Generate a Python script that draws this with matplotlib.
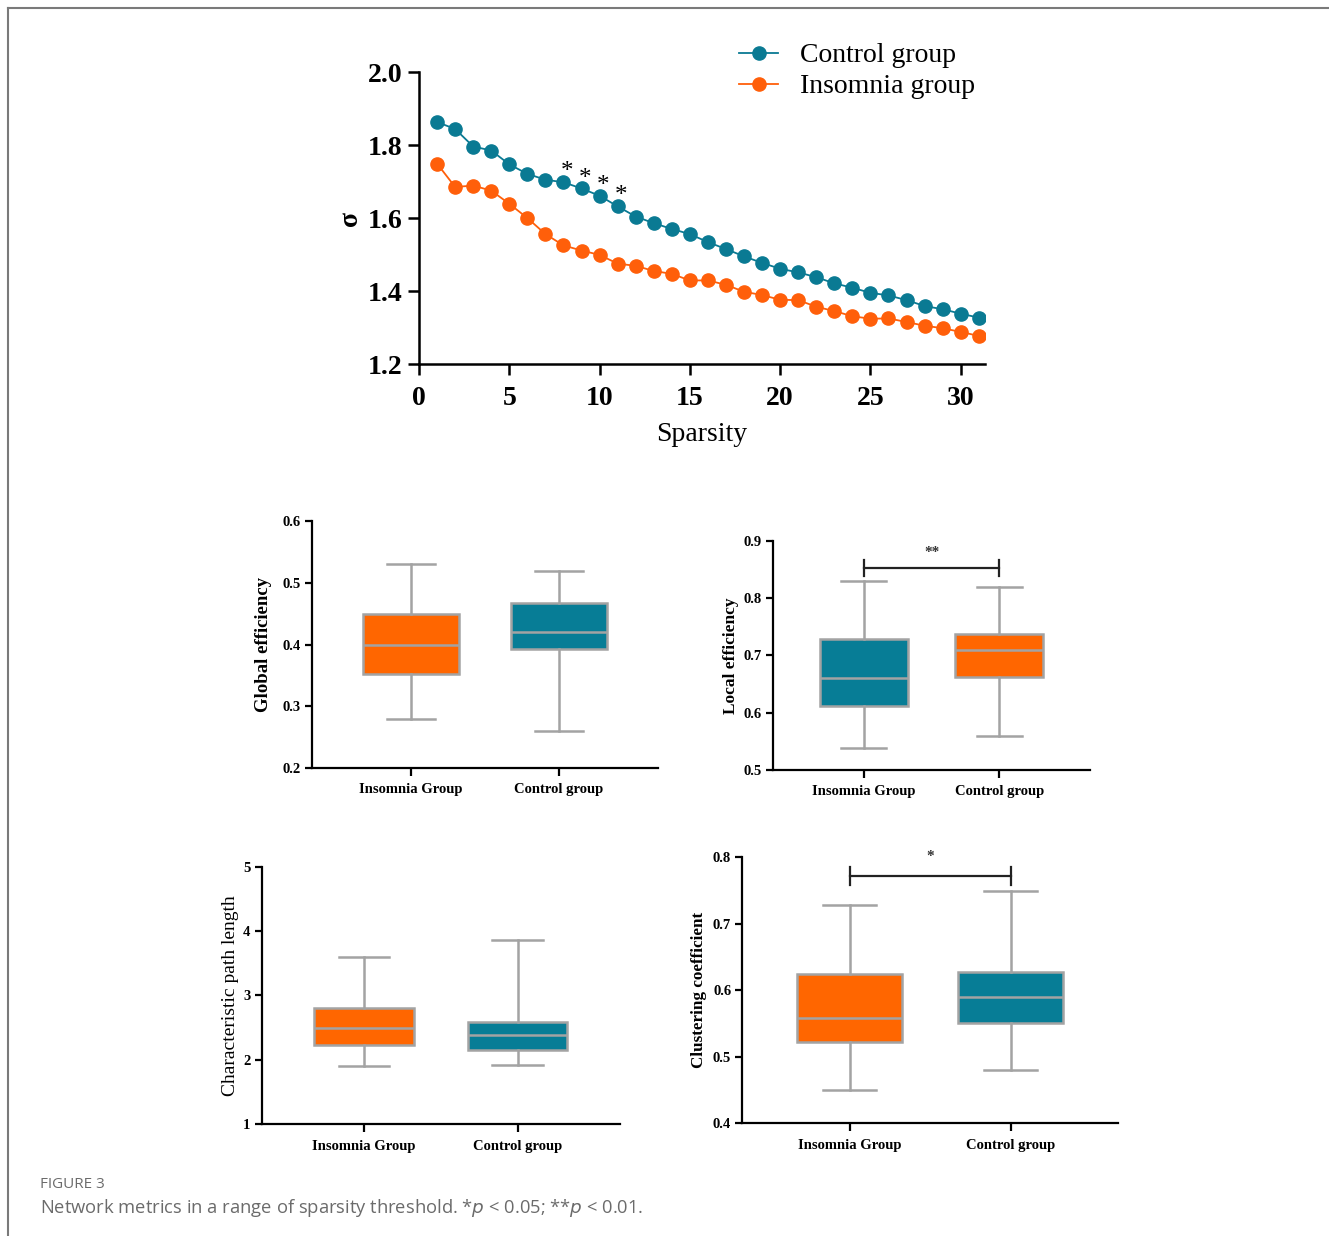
import matplotlib
matplotlib.use("Agg")
import matplotlib.pyplot as plt
from matplotlib.lines import Line2D

# ---------------- data ----------------
sparsity = list(range(1, 32))
control_sigma = [1.863, 1.844, 1.796, 1.785, 1.747, 1.721, 1.705, 1.698, 1.681, 1.661,
                 1.632, 1.604, 1.586, 1.570, 1.556, 1.534, 1.515, 1.495, 1.477, 1.461,
                 1.451, 1.438, 1.421, 1.409, 1.395, 1.388, 1.375, 1.359, 1.350, 1.338, 1.327]
insomnia_sigma = [1.749, 1.685, 1.689, 1.675, 1.639, 1.600, 1.556, 1.525, 1.511, 1.499,
                  1.475, 1.469, 1.455, 1.447, 1.429, 1.429, 1.417, 1.398, 1.389, 1.376,
                  1.375, 1.357, 1.345, 1.331, 1.324, 1.325, 1.315, 1.305, 1.298, 1.288, 1.277]
sig_sparsity = [8, 9, 10, 11]

groups = ["Insomnia Group", "Control group"]
# each box: [whisker low, Q1, median, Q3, whisker high]
global_eff = {"Insomnia Group": [0.279, 0.353, 0.400, 0.449, 0.530],
              "Control group": [0.260, 0.392, 0.420, 0.468, 0.519]}
local_eff = {"Insomnia Group": [0.539, 0.612, 0.660, 0.728, 0.830],
             "Control group": [0.559, 0.662, 0.709, 0.738, 0.820]}
path_len = {"Insomnia Group": [1.906, 2.226, 2.501, 2.806, 3.598],
            "Control group": [1.921, 2.149, 2.392, 2.583, 3.862]}
clust = {"Insomnia Group": [0.450, 0.522, 0.559, 0.625, 0.729],
         "Control group": [0.480, 0.551, 0.590, 0.628, 0.749]}

TEAL = "#077d96"
ORANGE = "#ff6600"
LTEAL = "#0a7a93"
LORANGE = "#ff5f0a"
GRAY = "#a3a3a3"

SERIF = ["Liberation Serif", "DejaVu Serif"]

fig = plt.figure(figsize=(13.29, 12.36), dpi=100)

# border lines
fig.add_artist(Line2D([8 / 1329, 1.0], [1 - 8 / 1236, 1 - 8 / 1236], color="#7a7a7a", lw=1.5))
fig.add_artist(Line2D([8 / 1329, 8 / 1329], [0.0, 1 - 8 / 1236], color="#7a7a7a", lw=1.5))

# ---------------- top line chart ----------------
ax = fig.add_axes([0.3153, 0.7055, 0.7412 - 0.3153, 0.9417 - 0.7055])
ax.plot(sparsity, control_sigma, "-o", color=LTEAL, lw=1.3, ms=9.5, label="Control group", zorder=3)
ax.plot(sparsity, insomnia_sigma, "-o", color=LORANGE, lw=1.3, ms=9.5, label="Insomnia group", zorder=3)
for s in sig_sparsity:
    ax.text(s + 0.2, control_sigma[s - 1] + 0.027, "*", ha="center", va="center",
            fontsize=18, family=SERIF, color="black")
ax.set_xlim(0, 31.35)
ax.set_ylim(1.2, 2.0)
ax.set_xticks([0, 5, 10, 15, 20, 25, 30])
ax.set_yticks([1.2, 1.4, 1.6, 1.8, 2.0])
ax.set_yticklabels(["1.2", "1.4", "1.6", "1.8", "2.0"])
for sp in ["top", "right"]:
    ax.spines[sp].set_visible(False)
for sp in ["left", "bottom"]:
    ax.spines[sp].set_linewidth(1.8)
ax.tick_params(axis="both", direction="out", length=8, width=1.8, labelsize=20, pad=4)
ax.tick_params(axis="x", pad=8)
for lab in ax.get_xticklabels() + ax.get_yticklabels():
    lab.set_fontfamily(SERIF)
    lab.set_fontweight("bold")
ax.set_xlabel("Sparsity", fontsize=20, family=SERIF, labelpad=8)
ax.set_ylabel("σ", fontsize=20, family=SERIF, fontweight="bold", labelpad=3)
leg = ax.legend(loc="upper right", bbox_to_anchor=(1.027, 1.185), frameon=False,
                prop={"family": SERIF, "size": 20}, handlelength=1.4, handletextpad=0.8,
                labelspacing=0.2)


def boxpanel(rect, data, colors, ylim, yticks, yticklabels, ylabel, ylabel_bold=True,
             ylabel_size=13.5, ylabel_pad=8, sig=None):
    a = fig.add_axes(rect)
    positions = [1, 2]
    stats = []
    for g in groups:
        lo, q1, med, q3, hi = data[g]
        stats.append({"whislo": lo, "q1": q1, "med": med, "q3": q3, "whishi": hi,
                      "fliers": [], "label": g})
    bp = a.bxp(stats, positions=positions, widths=0.65, patch_artist=True,
               showfliers=False,
               boxprops=dict(edgecolor=GRAY, linewidth=1.8),
               medianprops=dict(color=GRAY, linewidth=1.8),
               whiskerprops=dict(color=GRAY, linewidth=1.8),
               capprops=dict(color=GRAY, linewidth=1.8),
               capwidths=0.33)
    for patch, c in zip(bp["boxes"], colors):
        patch.set_facecolor(c)
    a.set_xlim(0.332, 2.668)
    a.set_ylim(*ylim)
    a.set_yticks(yticks)
    a.set_yticklabels(yticklabels)
    a.set_xticks(positions)
    a.set_xticklabels(groups)
    for sp in ["top", "right"]:
        a.spines[sp].set_visible(False)
    for sp in ["left", "bottom"]:
        a.spines[sp].set_linewidth(1.6)
    a.tick_params(axis="both", direction="out", length=5, width=1.6, labelsize=10.5, pad=3)
    a.tick_params(axis="x", length=6, pad=5)
    for lab in a.get_xticklabels() + a.get_yticklabels():
        lab.set_fontfamily(SERIF)
        lab.set_fontweight("bold")
    a.set_ylabel(ylabel, fontsize=ylabel_size, family=SERIF,
                 fontweight="bold" if ylabel_bold else "normal", labelpad=ylabel_pad)
    if sig is not None:
        ybar, ytop, ybot, ystar, txt = sig
        a.plot([1, 2], [ybar, ybar], color="#222222", lw=1.6, clip_on=False)
        a.plot([1, 1], [ybot, ytop], color="#222222", lw=1.6, clip_on=False)
        a.plot([2, 2], [ybot, ytop], color="#222222", lw=1.6, clip_on=False)
        a.text(1.5, ystar, txt, ha="center", va="center", fontsize=11, family=SERIF,
               fontweight="bold", color="#333333")
    return a


axA = boxpanel([0.2348, 0.3786, 0.4951 - 0.2348, 0.5785 - 0.3786], global_eff,
               [ORANGE, TEAL], (0.2, 0.6), [0.2, 0.3, 0.4, 0.5, 0.6],
               ["0.2", "0.3", "0.4", "0.5", "0.6"], "Global efficiency")
axB = boxpanel([0.5816, 0.3770, 0.8202 - 0.5816, 0.5625 - 0.3770], local_eff,
               [TEAL, ORANGE], (0.5, 0.9), [0.5, 0.6, 0.7, 0.8, 0.9],
               ["0.5", "0.6", "0.7", "0.8", "0.9"], "Local efficiency",
               ylabel_size=12.5, ylabel_pad=3,
               sig=(0.853, 0.866, 0.839, 0.879, "**"))
axC = boxpanel([0.1969, 0.0904, 0.4665 - 0.1969, 0.2988 - 0.0904], path_len,
               [ORANGE, TEAL], (1, 5), [1, 2, 3, 4, 5],
               ["1", "2", "3", "4", "5"], "Characteristic path length", ylabel_bold=False,
               ylabel_size=14, ylabel_pad=3)
axD = boxpanel([0.5585, 0.0912, 0.8415 - 0.5585, 0.3064 - 0.0912], clust,
               [ORANGE, TEAL], (0.4, 0.8), [0.4, 0.5, 0.6, 0.7, 0.8],
               ["0.4", "0.5", "0.6", "0.7", "0.8"], "Clustering coefficient",
               ylabel_size=12.3, ylabel_pad=4,
               sig=(0.772, 0.786, 0.759, 0.801, "*"))

# ---------------- caption ----------------
fig.text(40 / 1329, 1 - 1185 / 1236, "FIGURE 3", fontsize=11, family=["Open Sans", "DejaVu Sans"],
         color="#6b6b6b", va="center", ha="left")
fig.text(40 / 1329, 1 - 1208 / 1236,
         "Network metrics in a range of sparsity threshold. *$p$ < 0.05; **$p$ < 0.01.",
         fontsize=13.2, family=["Open Sans", "DejaVu Sans"], color="#6b6b6b",
         va="center", ha="left")

fig.savefig("out.png", dpi=100, facecolor="white")
